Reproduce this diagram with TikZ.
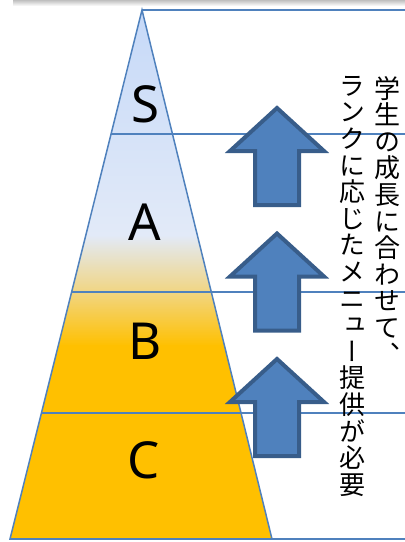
\documentclass[tikz,border=0pt]{standalone}
\usepackage{fontspec}
\usetikzlibrary{calc}
\newfontfamily\jpv[RawFeature=+vert]{Noto Sans CJK JP}
\newfontfamily\latn{Noto Sans}
\definecolor{lineblue}{HTML}{4F81BD}
\definecolor{arrowfill}{HTML}{4F81BD}
\definecolor{arrowedge}{HTML}{385D8A}
\definecolor{skyA}{HTML}{C6D9F8}
\definecolor{skyB}{HTML}{E2EAF8}
\definecolor{paleGold}{HTML}{F1D581}
\definecolor{gold}{HTML}{FFC000}
\tikzset{
  rankline/.style={draw=lineblue, line width=1.5pt},
  ranklabel/.style={inner sep=0pt, font=\latn\fontsize{51}{51}\selectfont},
  uparrow/.style={fill=arrowfill, draw=arrowedge, line width=4pt, line join=miter},
  vtext/.style={inner sep=0pt, anchor=north, align=center, font=\jpv\fontsize{26}{26.6}\selectfont}
}
\begin{document}
\begin{tikzpicture}[x=1pt, y=-1pt]
\useasboundingbox (0,0) rectangle (405,542);
% top shadow bar
\shade[top color=gray!50, bottom color=white] (13,0) rectangle (405,6);
% pyramid corners
\coordinate (apex) at (142,10);
\coordinate (bl) at (10,539);
\coordinate (br) at (272,539);
\coordinate (redge) at (405,0);
% gradient fill
\begin{scope}
  \clip (apex) -- (bl) -- (br) -- cycle;
  \shade[top color=skyA, bottom color=skyB] (0,9) rectangle (300,236);
  \shade[top color=skyB, bottom color=paleGold] (0,235) rectangle (300,293);
  \shade[top color=paleGold, bottom color=gold] (0,292) rectangle (300,346);
  \fill[gold] (0,345) rectangle (300,541);
\end{scope}
% boundary points
\coordinate (l1) at ($(apex)!0.2344!(bl)$);
\coordinate (l2) at ($(apex)!0.5331!(bl)$);
\coordinate (l3) at ($(apex)!0.7618!(bl)$);
\draw[rankline] (apex) -- (bl) -- (br) -- cycle;
\draw[rankline] (apex) -- (apex -| redge);
\draw[rankline] (l1) -- (l1 -| redge);
\draw[rankline] (l2) -- (l2 -| redge);
\draw[rankline] (l3) -- (l3 -| redge);
\draw[rankline] (bl) -- (bl -| redge);
% labels
\node[ranklabel] (S) at (145,104) {S};
\node[ranklabel] (A) at (145,222) {A};
\node[ranklabel] (B) at (145,341) {B};
\node[ranklabel] (C) at (144,460) {C};
% arrows
\foreach \t in {0,125.5,251}{
  \draw[uparrow] (277,108+\t) -- (324,151+\t) -- (299,151+\t) -- (299,205+\t)
    -- (255,205+\t) -- (255,151+\t) -- (230,151+\t) -- cycle;
}
% vertical text
\node[vtext] (t1) at (387,76) {学\\生\\の\\成\\長\\に\\合\\わ\\せ\\て\\、};
\node[vtext] (t2) at (352,76) {ラ\\ン\\ク\\に\\応\\じ\\た\\メ\\ニ\\ュ\\ー\\提\\供\\が\\必\\要};
\end{tikzpicture}
\end{document}
